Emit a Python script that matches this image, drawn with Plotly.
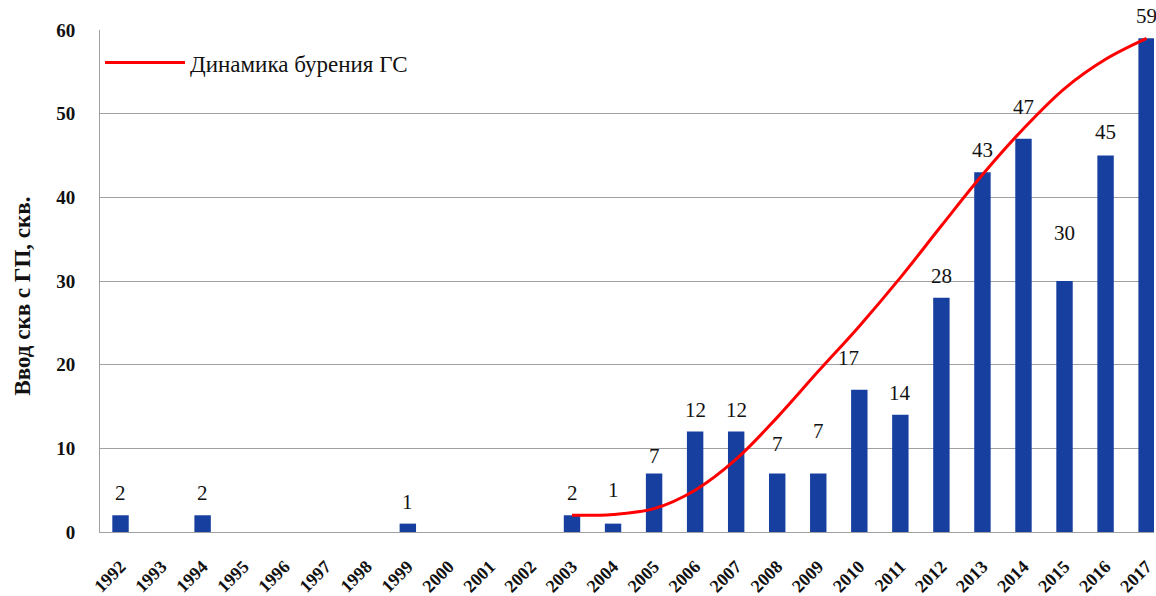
import plotly.graph_objects as go

# Horizontal wells put into operation per year
years = list(range(1992, 2018))
wells = [2, 0, 2, 0, 0, 0, 0, 1, 0, 0, 0, 2, 1, 7, 12, 12, 7, 7, 17, 14, 28, 43, 47, 30, 45, 59]

# Smoothed drilling trend (2003–2017)
trend_years = list(range(2003, 2018))
trend_values = [2.0, 2.1, 2.8, 5.0, 8.7, 13.7, 19.2, 24.6, 30.4, 36.6, 42.7, 48.2, 53.0, 56.5, 59.0]

series_name = "Динамика бурения ГС"
y_title = "Ввод скв с ГП, скв."

SERIF = "Liberation Serif"
BAR_COLOR = "#173f9f"
GRID = "#a0a0a0"
INK = "#111111"

# Label placement above bars (pixels), a few nudged away from the trend line
label_lift = {2004: 34, 2005: 17, 2008: 29, 2009: 42, 2010: 32, 2014: 32, 2015: 48, 2016: 24}
label_nudge_x = {2010: -11}

fig = go.Figure()

fig.add_trace(go.Bar(
    x=years, y=wells, width=0.4,
    marker=dict(color=BAR_COLOR, line=dict(width=0)),
    showlegend=False, hoverinfo="x+y",
))

fig.add_trace(go.Scatter(
    x=trend_years, y=trend_values, mode="lines",
    line=dict(color="#ff0000", width=3, shape="spline", smoothing=1.0),
    name=series_name,
))

for yr, v in zip(years, wells):
    if v <= 0:
        continue
    fig.add_annotation(
        x=yr, y=v, text=str(v), showarrow=False,
        xanchor="center", yanchor="middle",
        yshift=label_lift.get(yr, 22), xshift=label_nudge_x.get(yr, 0),
        font=dict(family=SERIF, size=21, color=INK),
    )

# Vertical axis caption
fig.add_annotation(
    xref="paper", yref="paper", x=-0.073, y=0.469,
    text=y_title, textangle=-90, showarrow=False,
    xanchor="center", yanchor="middle",
    font=dict(family=SERIF, size=23, color=INK, weight="bold"),
)

fig.update_layout(
    width=1156, height=596,
    margin=dict(l=100, r=0, t=30, b=61),
    paper_bgcolor="white", plot_bgcolor="white",
    bargap=0.6,
    legend=dict(
        x=0.0, y=0.935, xanchor="left", yanchor="middle",
        bgcolor="rgba(0,0,0,0)", borderwidth=0, itemwidth=80,
        font=dict(family=SERIF, size=23, color=INK),
    ),
)

fig.update_xaxes(
    range=[1991.5, 2017.18],
    tickmode="array", tickvals=years, ticktext=[str(y) for y in years],
    tickangle=-45, ticklabeloverflow="allow",
    tickfont=dict(family=SERIF, size=18, color=INK, weight="bold"),
    showgrid=False, zeroline=False,
    showline=True, linecolor=GRID, linewidth=1,
    ticks="", ticklabelstandoff=16,
)

fig.update_yaxes(
    range=[0, 60], tickmode="linear", dtick=10,
    tickfont=dict(family=SERIF, size=19, color=INK, weight="bold"),
    showgrid=True, gridcolor=GRID, gridwidth=1,
    zeroline=False, showline=True, linecolor=GRID, linewidth=1,
    ticks="", ticklabelstandoff=20,
)

fig.write_html("out.html")
